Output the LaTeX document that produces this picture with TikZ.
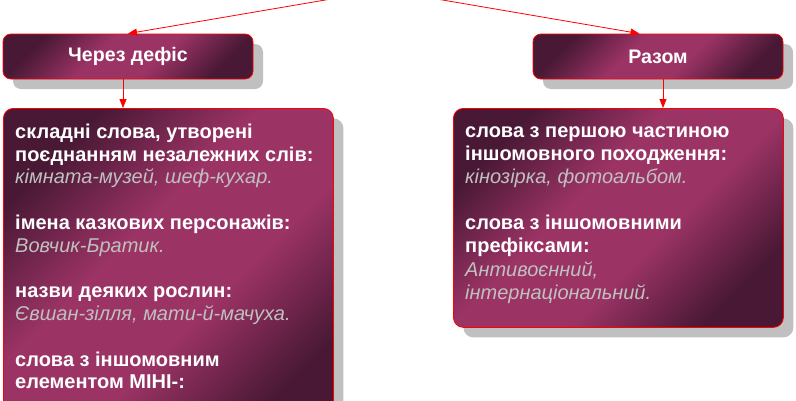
\documentclass[tikz,border=0pt]{standalone}
\usepackage{fontspec}
\setmainfont{Liberation Sans}
\usetikzlibrary{arrows.meta}
\usetikzlibrary{shadows}
\usetikzlibrary{positioning}
\definecolor{plumdark}{RGB}{72,24,52}
\definecolor{plumlight}{RGB}{155,51,101}
\definecolor{shadowgray}{RGB}{192,192,192}
\definecolor{examplegray}{RGB}{192,192,192}
\pgfdeclareverticalshading{plumshade}{100bp}{color(0bp)=(plumdark);
    color(25bp)=(plumdark); color(42bp)=(plumlight); color(58bp)=(plumlight);
    color(75bp)=(plumdark); color(100bp)=(plumdark)}
\newcommand\eg[1]{{\mdseries\itshape\color{examplegray}#1}}

\begin{document}
\begin{tikzpicture} [
        x=1pt, y=1pt,
        plumbox/.style={draw=red, line width=0.8pt, rounded corners=8pt,
            shading=plumshade, shading angle=45,
            drop shadow={shadow xshift=10pt, shadow yshift=-10pt,
                fill=shadowgray, opacity=1}},
        header/.style={plumbox, minimum width=250pt, minimum height=45pt,
            text=white, font=\bfseries\fontsize{19.6}{22}\selectfont},
        panel/.style={plumbox, rounded corners=10pt, minimum width=330pt,
            anchor=north west},
        rules/.style={anchor=north west, align=left, inner sep=0pt, text=white,
            font=\bfseries\fontsize{20}{#1}\selectfont},
        link/.style={draw=red, line width=0.8pt, ->},
        >={Triangle[length=9pt,width=7pt]} ]
    \useasboundingbox (0,0) rectangle (796,-400);
    \coordinate (top) at (384,10);
    \node[header] (defis) at (128,-56.5) {Через дефіс};
    \node[header] (razom) at (658,-56.5) {Разом};
    \node[panel, minimum height=330pt] (skladni) at (3,-108) {};
    \node[panel, minimum height=219pt] (inshomovni) at (453,-108) {};
    \node[rules=22.8] (skladnitext) at (15,-123.5) {складні слова, утворені\\
        поєднанням незалежних слів:\\
        \eg{кімната-музей, шеф-кухар.}\\[22.8pt]
        імена казкових персонажів:\\
        \eg{Вовчик-Братик.}\\[22.8pt]
        назви деяких рослин:\\
        \eg{Євшан-зілля, мати-й-мачуха.}\\[22.8pt]
        слова з іншомовним\\
        елементом МІНІ-:};
    \node[rules=23.1] (inshomovnitext) at (465,-126.5) {слова з першою частиною\\
        іншомовного походження:\\
        \eg{кінозірка, фотоальбом.}\\[23.1pt]
        слова з іншомовними\\
        префіксами:\\
        \eg{Антивоєнний,}\\
        \eg{інтернаціональний.}};
    \draw[link] (top) -- (defis.north);
    \draw[link] (top) -- (razom.129);
    \draw[link] ([xshift=-5pt]defis.south) -- ([xshift=-5pt]defis.south |- skladni.north);
    \draw[link] ([xshift=5pt]razom.south) -- ([xshift=5pt]razom.south |- inshomovni.north);
\end{tikzpicture}
\end{document}
